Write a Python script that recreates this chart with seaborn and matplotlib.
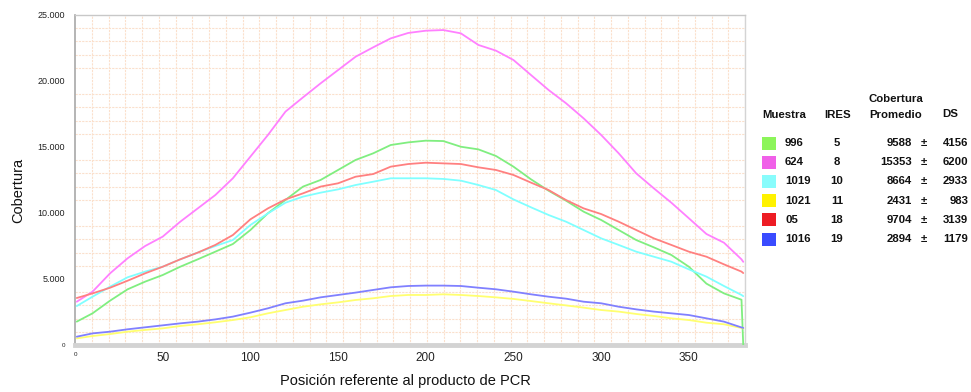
import numpy as np
import pandas as pd
import matplotlib
matplotlib.use("Agg")
import matplotlib.pyplot as plt
from matplotlib.patches import Rectangle
import seaborn as sns

# ---------------- data ----------------
positions = [1, 10, 20, 30, 40, 50, 60, 70, 80, 90, 100, 110, 120, 130, 140, 150, 160, 170, 180, 190,
             200, 210, 220, 230, 240, 250, 260, 270, 280, 290, 300, 310, 320, 330, 340, 350, 360, 370, 380, 381]

cov_996 = [1770, 2400, 3360, 4220, 4800, 5300, 5930, 6490, 7070, 7650, 8710, 9980, 10990, 12000, 12500,
           13260, 14020, 14520, 15150, 15350, 15480, 15450, 15020, 14820, 14320, 13510, 12550, 11690,
           10930, 10100, 9470, 8710, 7950, 7400, 6820, 5930, 4650, 3910, 3430, 0]
cov_624 = [3280, 4040, 5430, 6570, 7500, 8210, 9340, 10350, 11360, 12630, 14270, 15910, 17680, 18760,
           19820, 20830, 21840, 22550, 23230, 23640, 23810, 23860, 23610, 22730, 22300, 21590, 20450,
           19320, 18310, 17170, 15910, 14520, 13000, 11870, 10780, 9600, 8410, 7750, 6490, 6300]
cov_1019 = [2950, 3660, 4420, 5130, 5560, 5930, 6490, 7000, 7500, 7950, 9090, 9970, 10780, 11240, 11540,
            11790, 12120, 12370, 12630, 12630, 12630, 12580, 12450, 12120, 11740, 11030, 10430, 9850,
            9340, 8710, 8080, 7580, 7070, 6690, 6310, 5730, 5180, 4470, 3790, 3700]
cov_1021 = [500, 680, 830, 1010, 1140, 1260, 1440, 1570, 1720, 1890, 2100, 2400, 2650, 2900, 3080, 3230,
            3410, 3540, 3710, 3790, 3790, 3840, 3790, 3710, 3610, 3490, 3330, 3160, 3000, 2830, 2650,
            2530, 2350, 2200, 2020, 1890, 1690, 1570, 1290, 1250]
cov_05 = [3560, 3910, 4340, 4870, 5430, 5930, 6490, 7000, 7580, 8330, 9520, 10350, 11030, 11490, 12000,
          12250, 12750, 12950, 13510, 13710, 13810, 13760, 13710, 13460, 13260, 12880, 12300, 11740,
          10980, 10350, 9920, 9340, 8710, 8080, 7580, 7070, 6690, 6110, 5560, 5450]
cov_1016 = [630, 880, 1010, 1190, 1340, 1490, 1640, 1770, 1940, 2150, 2450, 2780, 3160, 3360, 3610, 3790,
            3970, 4170, 4370, 4470, 4500, 4500, 4470, 4340, 4220, 4040, 3840, 3660, 3510, 3280, 3160,
            2900, 2700, 2530, 2400, 2270, 2020, 1770, 1330, 1290]

samples = ["996", "624", "1019", "1021", "05", "1016"]
ires = ["5", "8", "10", "11", "18", "19"]
mean_cov = ["9588", "15353", "8664", "2431", "9704", "2894"]
sd_cov = ["4156", "6200", "2933", "983", "3139", "1179"]
series = [cov_996, cov_624, cov_1019, cov_1021, cov_05, cov_1016]

line_colors = ["#80ee80", "#ff80ff", "#80ffff", "#ffff70", "#ff8080", "#8080ff"]
swatch_colors = ["#8cf55a", "#f060e8", "#88fcfc", "#fff200", "#ed1c24", "#3a4bff"]

y_ticks = [0, 5000, 10000, 15000, 20000, 25000]
y_ticklabels = ["0", "5.000", "10.000", "15.000", "20.000", "25.000"]
x_ticks = [0, 50, 100, 150, 200, 250, 300, 350]
x_ticklabels = ["0", "50", "100", "150", "200", "250", "300", "350"]

rows = []
for name, vals in zip(samples, series):
    for p, v in zip(positions, vals):
        rows.append({"pos": p, "cov": v, "Muestra": name})
df = pd.DataFrame(rows)

# ---------------- figure ----------------
sns.set_theme(style="white")
plt.rcParams["font.family"] = ["Liberation Sans", "DejaVu Sans"]

W, H = 971, 392
fig = plt.figure(figsize=(W / 100, H / 100), dpi=100)
ax = fig.add_axes([75 / W, 1 - 345 / H, 670 / W, 330 / H])

sns.lineplot(data=df, x="pos", y="cov", hue="Muestra", hue_order=samples,
             palette=dict(zip(samples, line_colors)), linewidth=1.3,
             legend=False, ax=ax, zorder=3)

xmin, xmax = 0.0, 382.0
ax.set_xlim(xmin, xmax)
ax.set_ylim(0, 25000)

# grid
ax.set_xticks(np.linspace(xmin, xmax, 41), minor=True)
ax.set_yticks(np.arange(0, 25001, 1000), minor=True)
ax.grid(which="minor", color="#fbe0cc", linewidth=0.8, linestyle=(0, (2, 1)), zorder=0)
ax.grid(which="major", visible=False)

ax.set_yticks(y_ticks)
ax.set_yticklabels(y_ticklabels)
ax.set_xticks(x_ticks)
ax.set_xticklabels(x_ticklabels)
for lab in ax.get_yticklabels():
    lab.set_fontsize(6.5)
    lab.set_color("#222222")
for lab in ax.get_xticklabels():
    lab.set_fontsize(8.5)
    lab.set_color("#222222")
ax.get_yticklabels()[0].set_fontsize(4.5)
ax.get_xticklabels()[0].set_fontsize(4.5)
ax.tick_params(axis="both", which="both", length=0)
ax.tick_params(axis="y", pad=7)
ax.tick_params(axis="x", pad=5)

ax.set_xlabel("")
ax.set_ylabel("")

for side, col, lw in [("left", "#a8a8a8", 1.2), ("top", "#c8c8c8", 1.0),
                      ("right", "#d4d4d4", 1.0), ("bottom", "#d3d3d3", 3.5)]:
    ax.spines[side].set_visible(True)
    ax.spines[side].set_color(col)
    ax.spines[side].set_linewidth(lw)

fig.text(18 / W, 1 - 190 / H, "Cobertura", rotation=90, ha="center", va="center",
         fontsize=10.5, color="#111111")
fig.text(405 / W, 1 - 381 / H, "Posición referente al producto de PCR", ha="center",
         va="center", fontsize=10.5, color="#111111")

# ---------------- legend table ----------------
fs = 8.2
def ft(x, y, s, ha):
    fig.text(x / W, 1 - y / H, s, ha=ha, va="center", fontsize=fs, fontweight="bold",
             color="#111111")

ft(762, 115, "Muestra", "left")
ft(838, 115, "IRES", "center")
ft(896, 99, "Cobertura", "center")
ft(896, 115, "Promedio", "center")
ft(950, 114, "DS", "center")

row_y0, row_dy = 143, 19.2
for i in range(len(samples)):
    y = row_y0 + i * row_dy
    fig.add_artist(Rectangle(((762) / W, 1 - (y + 6.5) / H), 14 / W, 13 / H,
                             transform=fig.transFigure, facecolor=swatch_colors[i],
                             edgecolor="none"))
    ft(785, y, samples[i], "left")
    ft(837, y, ires[i], "center")
    ft(912, y, mean_cov[i], "right")
    ft(924, y, "±", "center")
    ft(968, y, sd_cov[i], "right")

fig.savefig("out.png", dpi=100)
